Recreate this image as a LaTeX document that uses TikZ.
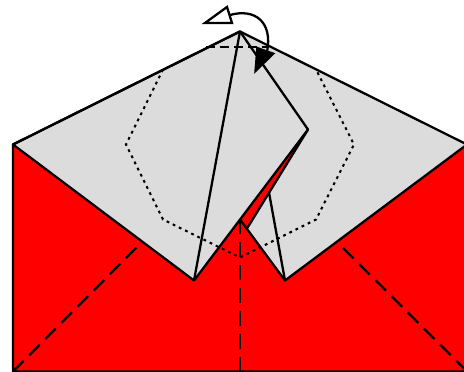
\documentclass[tikz,border=0pt]{standalone}
\usepackage{tikz}
\usepackage{xcolor}
\definecolor{paperGray}{HTML}{DCDCDC}
\definecolor{paperRed}{HTML}{FF0000}

\begin{document}
\begin{tikzpicture}[
        x=0.02cm, y=-0.02cm,
        edge/.style={draw=black, line width=1.3pt, line join=round},
        foldLong/.style={draw=black, line width=1.3pt, dash pattern=on 8.5pt off 4.5pt},
        foldShort/.style={draw=black, line width=1.3pt, dash pattern=on 5pt off 3pt},
        foldDot/.style={draw=black, line width=1.15pt, dash pattern=on 1.6pt off 2.3pt},
        headOpen/.style={draw=black, fill=white, line width=1.3pt, line join=miter},
        headFull/.style={draw=black, fill=black, line width=0.8pt, line join=miter},
        turn/.style={draw=black, line width=1.3pt}
      ]
      \useasboundingbox (0,0) rectangle (464,372);

      % Corners of the sheet
      \coordinate (apex) at (240,31.5);
      \coordinate (left) at (13,144.5);
      \coordinate (right) at (467,144.5);
      \coordinate (botL) at (13,371.5);
      \coordinate (botR) at (467,371.5);
      \coordinate (notchL) at (194,280.5);
      \coordinate (notchR) at (285,280.5);
      \coordinate (mid) at (240,219.5);
      \coordinate (tip) at (308,129.5);
      \coordinate (sliver) at (247,228.5);
      \coordinate (crease) at (269,192.5);

      % Red base
      \fill[paperRed] (left) -- (botL) -- (botR) -- (right) -- (apex) -- cycle;

      % Gray flap
      \fill[paperGray] (apex) -- (left) -- (notchL) -- (tip) -- (sliver) -- (notchR) -- (right) -- cycle;

      % Dashed folds on red
      \draw[foldLong] (botL) -- (137,247);
      \draw[foldLong] (343,248) -- (botR);
      \draw[foldLong] (240.3,219.5) -- (240.3,371.5);

      % Dotted folds
      \draw[foldDot] (163,69.5) -- (126,144.5) -- (163,219.5) -- (240,257.5) -- (316,219.5) -- (354,144.5) -- (316,69.5);
      \draw[foldShort] (206,47.2) -- (268,47.2);

      % Outline
      \draw[edge] (botL) -- (left) -- (apex) -- (right) -- (botR) -- cycle;
      \draw[edge] (left) -- (notchL) -- (tip) -- (apex) -- cycle;
      \draw[edge] (notchL) -- (apex);
      \draw[edge] (tip) -- (sliver);
      \draw[edge] (mid) -- (notchR) -- (right);
      \draw[edge] (crease) -- (notchR);

      % Turn over arrow
      \draw[turn] (230,15) .. controls (255,8) and (273,22) .. (267,52);
      \draw[headOpen] (205,23) -- (227,7) -- (232,23) -- cycle;
      \draw[headFull] (255,72) -- (274,53.5) -- (257,47.5) -- cycle;
\end{tikzpicture}
\end{document}
